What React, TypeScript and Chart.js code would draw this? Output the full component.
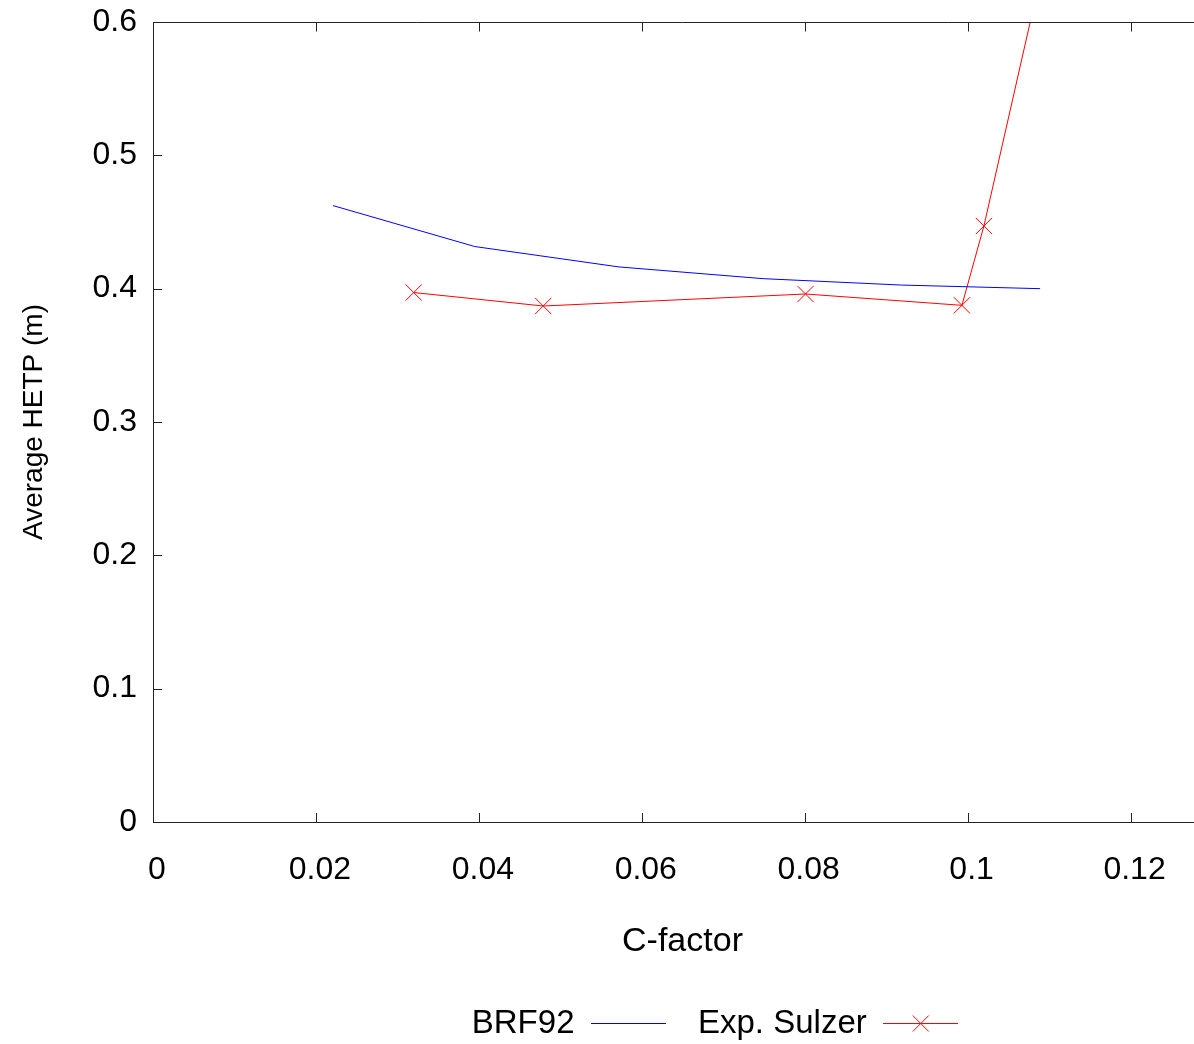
import React, { useEffect, useRef } from 'react';
import { Chart, registerables } from 'chart.js';

Chart.register(...registerables);

// ---- data ----
const SERIES_NAMES = ['BRF92', 'Exp. Sulzer'];
const BRF92_X = [0.0221, 0.0395, 0.0572, 0.0749, 0.0919, 0.1089];
const BRF92_Y = [0.4623, 0.4316, 0.4163, 0.4075, 0.4027, 0.4000];
const SULZER_X = [0.0320, 0.0479, 0.0801, 0.0993, 0.1020, 0.1114];
const SULZER_Y = [0.3971, 0.3870, 0.3960, 0.3875, 0.4470, 0.7000];
const X_TICKS = [0, 0.02, 0.04, 0.06, 0.08, 0.1, 0.12];
const Y_TICKS = [0, 0.1, 0.2, 0.3, 0.4, 0.5, 0.6];
const X_RANGE = [0, 0.13];
const Y_RANGE = [0, 0.6];
const X_TITLE = 'C-factor';
const Y_TITLE = 'Average HETP (m)';

const FONT = '"Liberation Sans", Arial, sans-serif';
const fmt = (v: number) => String(+Number(v).toFixed(3));

function makeSample(color: string, cross: boolean) {
  const c = document.createElement('canvas');
  c.width = 75;
  c.height = 17;
  const g = c.getContext('2d')!;
  g.strokeStyle = color;
  g.lineWidth = 1;
  g.beginPath();
  g.moveTo(0, 8.5);
  g.lineTo(75, 8.5);
  if (cross) {
    g.moveTo(29.5, 0.5);
    g.lineTo(45.5, 16.5);
    g.moveTo(45.5, 0.5);
    g.lineTo(29.5, 16.5);
  }
  g.stroke();
  return c;
}

const framePlugin = {
  id: 'frame',
  afterDraw(chart: any) {
    const { ctx, chartArea, scales } = chart;
    const { left, right, top, bottom } = chartArea;
    ctx.save();
    ctx.strokeStyle = '#222';
    ctx.lineWidth = 1;
    ctx.beginPath();
    const ty = Math.round(top) + 0.5;
    ctx.moveTo(left, ty);
    ctx.lineTo(right, ty);
    X_TICKS.forEach((v) => {
      const px = Math.round(scales.x.getPixelForValue(v)) + 0.5;
      ctx.moveTo(px, bottom);
      ctx.lineTo(px, bottom - 9);
      ctx.moveTo(px, ty);
      ctx.lineTo(px, ty + 9);
    });
    Y_TICKS.forEach((v) => {
      const py = Math.round(scales.y.getPixelForValue(v)) + 0.5;
      ctx.moveTo(left, py);
      ctx.lineTo(left + 9, py);
    });
    ctx.stroke();
    ctx.restore();
  },
};

const legendShift = {
  id: 'legendShift',
  afterLayout(chart: any) {
    const lg = chart.legend;
    if (lg) {
      lg.left += 109;
      lg.right += 109;
    }
  },
};

export default function App() {
  const ref = useRef<HTMLCanvasElement>(null);

  useEffect(() => {
    if (!ref.current) return;
    Chart.defaults.font.family = FONT;
    Chart.defaults.color = '#000';
    const samples = [makeSample('#0000ff', false), makeSample('#ff0000', true)];

    const chart = new Chart(ref.current, {
      type: 'line',
      data: {
        datasets: [
          {
            label: SERIES_NAMES[0],
            data: BRF92_X.map((x, i) => ({ x, y: BRF92_Y[i] })),
            borderColor: '#0000ff',
            backgroundColor: '#0000ff',
            borderWidth: 1,
            pointRadius: 0,
            tension: 0,
            fill: false,
          },
          {
            label: SERIES_NAMES[1],
            data: SULZER_X.map((x, i) => ({ x, y: SULZER_Y[i] })),
            borderColor: '#ff0000',
            backgroundColor: '#ff0000',
            borderWidth: 1,
            pointStyle: 'crossRot',
            pointRadius: 11.5,
            pointBorderColor: '#ff0000',
            pointBorderWidth: 1,
            tension: 0,
            fill: false,
          },
        ],
      },
      options: {
        responsive: false,
        animation: false,
        devicePixelRatio: 1,
        layout: { autoPadding: false, padding: { top: 22, left: 0, right: 0, bottom: 0 } },
        plugins: {
          tooltip: { enabled: false },
          legend: {
            position: 'bottom',
            rtl: true,
            reverse: true,
            labels: {
              usePointStyle: true,
              pointStyleWidth: 75,
              padding: 32,
              color: '#000',
              font: { size: 33, family: FONT },
              generateLabels: (c: any) => {
                const items = (Chart.defaults.plugins.legend.labels as any).generateLabels(c);
                return items.map((it: any) => ({ ...it, pointStyle: samples[it.datasetIndex] }));
              },
            },
          },
        },
        scales: {
          x: {
            type: 'linear',
            min: X_RANGE[0],
            max: X_RANGE[1],
            grid: { display: false, drawTicks: false },
            border: { display: true, color: '#222', width: 1 },
            ticks: {
              padding: 29,
              labelOffset: 4,
              autoSkip: false,
              maxRotation: 0,
              color: '#000',
              font: { size: 32, family: FONT },
              callback: (v: any) => fmt(v),
            },
            afterBuildTicks: (s: any) => {
              s.ticks = X_TICKS.map((value) => ({ value }));
            },
            afterFit: (s: any) => {
              s.height = 153;
              s.paddingLeft = 0;
              s.paddingRight = 0;
            },
            title: {
              display: true,
              text: X_TITLE,
              color: '#000',
              font: { size: 34, family: FONT },
              padding: 13,
            },
          },
          y: {
            type: 'linear',
            min: Y_RANGE[0],
            max: Y_RANGE[1],
            grid: { display: false, drawTicks: false },
            border: { display: true, color: '#222', width: 1 },
            ticks: {
              padding: 16,
              autoSkip: false,
              color: '#000',
              font: { size: 32, family: FONT },
              callback: (v: any) => fmt(v),
            },
            afterBuildTicks: (s: any) => {
              s.ticks = Y_TICKS.map((value) => ({ value }));
            },
            afterFit: (s: any) => {
              s.width = 153;
              s.paddingTop = 0;
              s.paddingBottom = 0;
            },
            title: {
              display: true,
              text: Y_TITLE,
              color: '#000',
              font: { size: 28, family: FONT },
              padding: 17,
            },
          },
        },
      },
      plugins: [framePlugin, legendShift],
    } as any);

    return () => chart.destroy();
  }, []);

  return (
    <div
      style={{
        position: 'fixed',
        left: 0,
        top: 0,
        width: 1194,
        height: 1044,
        overflow: 'hidden',
        background: '#fff',
      }}
    >
      <canvas ref={ref} width={1212} height={1050} style={{ display: 'block', width: 1212, height: 1050 }} />
    </div>
  );
}
